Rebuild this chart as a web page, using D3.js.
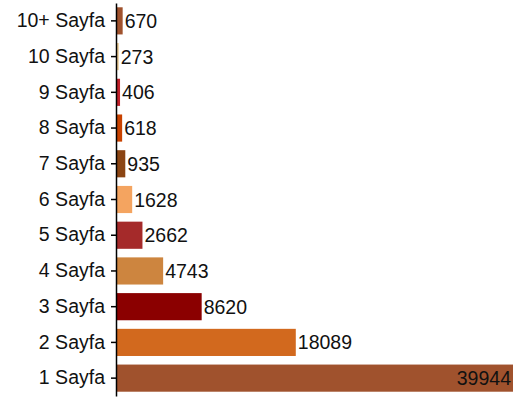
<!DOCTYPE html>
<html>
<head>
<meta charset="utf-8">
<script src="https://cdn.jsdelivr.net/npm/d3@7"></script>
<style>
  body { margin: 0; background: #fff; }
  svg { display: block; }
</style>
</head>
<body>
<div id="chart"></div>
<script>
// sayfa sayısına göre dağılım
const categories = ["10+ Sayfa", "10 Sayfa", "9 Sayfa", "8 Sayfa", "7 Sayfa", "6 Sayfa",
  "5 Sayfa", "4 Sayfa", "3 Sayfa", "2 Sayfa", "1 Sayfa"];
const values = [670, 273, 406, 618, 935, 1628, 2662, 4743, 8620, 18089, 39944];
const colors = ["#A0522D", "#E8C890", "#C0202A", "#C84200", "#8B4513", "#F4A460",
  "#A52A2A", "#CD853F", "#8B0000", "#D2691E", "#A0522D"];

const W = 515, H = 398;
const margin = { top: 3, right: 2, bottom: 2, left: 116 };

const svg = d3.select("#chart").append("svg")
  .attr("width", W)
  .attr("height", H);

const x = d3.scaleLinear()
  .domain([0, d3.max(values)])
  .range([margin.left, W - margin.right]);

const y = d3.scaleBand()
  .domain(categories)
  .range([margin.top, H - margin.bottom])
  .paddingInner(0.24)
  .paddingOuter(0.12);

const rows = categories.map((c, i) => ({ cat: c, val: values[i], color: colors[i] }));

// barlar
svg.selectAll("rect.bar")
  .data(rows)
  .enter().append("rect")
  .attr("class", "bar")
  .attr("x", x(0) + 1)
  .attr("y", d => y(d.cat))
  .attr("width", d => Math.max(0, x(d.val) - x(0) - 1))
  .attr("height", y.bandwidth())
  .attr("fill", d => d.color);

// değer etiketleri
const maxVal = d3.max(values);
svg.selectAll("text.val")
  .data(rows)
  .enter().append("text")
  .attr("class", "val")
  .attr("x", d => d.val === maxVal ? x(d.val) - 2 : x(d.val) + 2)
  .attr("y", d => y(d.cat) + y.bandwidth() / 2)
  .attr("dy", "0.36em")
  .attr("text-anchor", d => d.val === maxVal ? "end" : "start")
  .attr("font-family", "'Liberation Sans', Arial, sans-serif")
  .attr("font-size", "19.5px")
  .attr("fill", "#111")
  .text(d => d.val);

// y ekseni
const yAxis = svg.append("g")
  .attr("transform", `translate(${margin.left},0)`)
  .call(d3.axisLeft(y).tickSize(5).tickPadding(6).tickSizeOuter(0));

yAxis.select(".domain")
  .attr("stroke", "#000")
  .attr("stroke-width", 1.5);
yAxis.selectAll(".tick line").attr("stroke", "#000").attr("stroke-width", 1.5);
yAxis.selectAll(".tick text")
  .attr("font-family", "'Liberation Sans', Arial, sans-serif")
  .attr("font-size", "19.5px")
  .attr("fill", "#111");
</script>
</body>
</html>
